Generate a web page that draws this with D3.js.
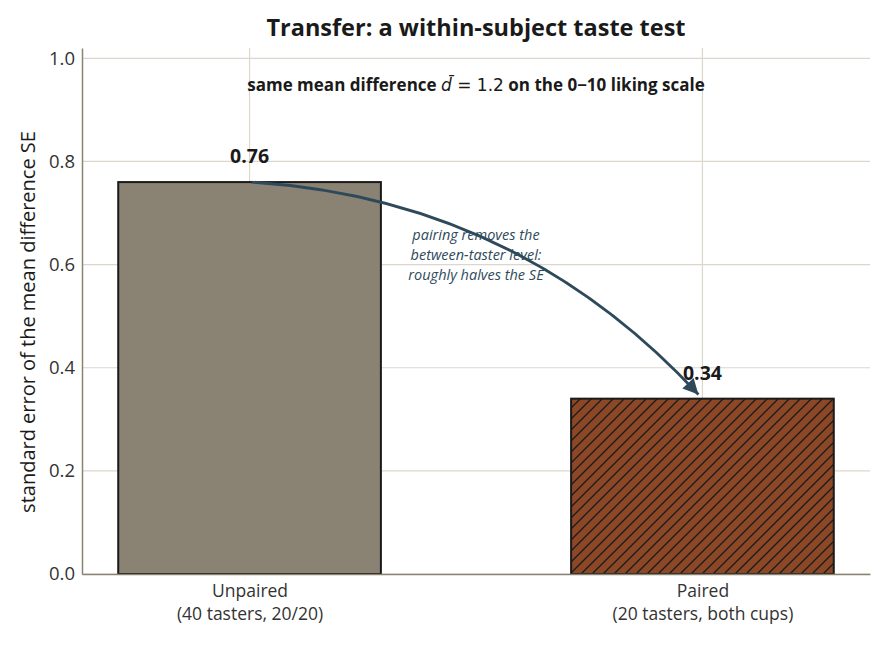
<!DOCTYPE html>
<html lang="en">
<head>
<meta charset="UTF-8">
<title>Transfer: a within-subject taste test</title>
<script src="https://cdn.jsdelivr.net/npm/d3@7"></script>
<style>
	html, body { margin: 0; padding: 0; background: #fff; }
	svg { display: block; font-family: "Open Sans", "Noto Sans", sans-serif; }
</style>
</head>
<body>
<div class="chart"></div>
<script>
	// data
	var categories = ['Unpaired', 'Paired'];
	var subLabels = ['(40 tasters, 20/20)', '(20 tasters, both cups)'];
	var seValues = [0.76, 0.34];
	var yTicks = [0.0, 0.2, 0.4, 0.6, 0.8, 1.0];
	var noteLines = ['pairing removes the', 'between-taster level:', 'roughly halves the SE'];

	var width = 886;
	var height = 646;
	var padding = { top: 48, right: 16, bottom: 72, left: 82 };
	var font = '"Open Sans", "Noto Sans", sans-serif';

	var xScale = d3.scaleLinear()
		.domain([-0.37, 1.37])
		.range([padding.left, width - padding.right]);
	var yScale = d3.scaleLinear()
		.domain([0, 1.02])
		.range([height - padding.bottom, padding.top]);
	var barW = 0.58;

	var svg = d3.select('.chart')
		.append('svg')
		.attr('width', width)
		.attr('height', height);

	var defs = svg.append('defs');
	var pat = defs.append('pattern')
		.attr('id', 'hatch')
		.attr('patternUnits', 'userSpaceOnUse')
		.attr('width', 11)
		.attr('height', 11);
	pat.append('rect').attr('width', 11).attr('height', 11).attr('fill', '#8b4726');
	pat.append('path')
		.attr('d', 'M-1,12 L12,-1 M-3,3 L3,-3 M8,14 L14,8')
		.attr('stroke', '#1a1a1a')
		.attr('stroke-width', 1.3);

	defs.append('marker')
		.attr('id', 'head')
		.attr('viewBox', '0 0 10 10')
		.attr('refX', 10).attr('refY', 5)
		.attr('markerWidth', 6).attr('markerHeight', 5.5)
		.attr('markerUnits', 'strokeWidth')
		.attr('orient', 'auto')
		.append('path')
		.attr('d', 'M0,0 L10,5 L0,10 Z')
		.attr('fill', '#2e4a5a');

	// grid
	svg.append('g')
		.selectAll('line')
		.data(yTicks)
		.enter()
		.append('line')
		.attr('x1', padding.left).attr('x2', width - padding.right)
		.attr('y1', function(d){ return yScale(d); })
		.attr('y2', function(d){ return yScale(d); })
		.attr('stroke', '#ddd6cc').attr('stroke-width', 1.2);
	svg.append('g')
		.selectAll('line')
		.data(categories)
		.enter()
		.append('line')
		.attr('x1', function(d, i){ return xScale(i); })
		.attr('x2', function(d, i){ return xScale(i); })
		.attr('y1', yScale(0)).attr('y2', padding.top)
		.attr('stroke', '#ddd6cc').attr('stroke-width', 1.2);

	// bars
	svg.append('g')
		.selectAll('rect')
		.data(seValues)
		.enter()
		.append('rect')
		.attr('x', function(d, i){ return xScale(i - barW / 2); })
		.attr('width', function(){ return xScale(barW) - xScale(0); })
		.attr('y', function(d){ return yScale(d); })
		.attr('height', function(d){ return yScale(0) - yScale(d); })
		.attr('fill', function(d, i){ return i === 0 ? '#8a8272' : 'url(#hatch)'; })
		.attr('stroke', '#1a1a1a')
		.attr('stroke-width', 2);

	// value labels
	svg.append('g')
		.selectAll('text')
		.data(seValues)
		.enter()
		.append('text')
		.attr('x', function(d, i){ return xScale(i); })
		.attr('y', function(d){ return yScale(d) - 19; })
		.attr('text-anchor', 'middle')
		.attr('font-size', 19.5)
		.attr('font-weight', 'bold')
		.attr('fill', '#1a1a1a')
		.text(function(d){ return d.toFixed(2); });

	// axes
	var yAxis = d3.axisLeft(yScale)
		.tickValues(yTicks)
		.tickSize(0)
		.tickPadding(7)
		.tickFormat(d3.format('.1f'));
	var gy = svg.append('g')
		.attr('transform', 'translate(' + padding.left + ',0)')
		.call(yAxis)
		.attr('font-family', font);
	gy.select('.domain').attr('stroke', '#8a8272').attr('stroke-width', 1.5);
	gy.selectAll('text').attr('font-size', 18.5).attr('fill', '#333');

	var xAxis = d3.axisBottom(xScale)
		.tickValues([0, 1])
		.tickSize(0)
		.tickFormat('');
	var gx = svg.append('g')
		.attr('transform', 'translate(0,' + yScale(0) + ')')
		.call(xAxis)
		.attr('font-family', font);
	gx.select('.domain').attr('stroke', '#8a8272').attr('stroke-width', 1.5);
	gx.selectAll('.tick').each(function(d, i){
		d3.select(this).append('text')
			.attr('text-anchor', 'middle')
			.attr('fill', '#333')
			.attr('font-size', 17.5)
			.attr('y', 23)
			.text(categories[i]);
		d3.select(this).append('text')
			.attr('text-anchor', 'middle')
			.attr('fill', '#333')
			.attr('font-size', 17.5)
			.attr('y', 46)
			.text(subLabels[i]);
	});

	// y label
	svg.append('text')
		.attr('transform', 'translate(35,' + ((padding.top + yScale(0)) / 2 + 11) + ') rotate(-90)')
		.attr('text-anchor', 'middle')
		.attr('font-size', 20)
		.attr('fill', '#1a1a1a')
		.text('standard error of the mean difference  SE');

	// title + subtitle
	var cx = (padding.left + width - padding.right) / 2;
	svg.append('text')
		.attr('x', cx).attr('y', 36)
		.attr('text-anchor', 'middle')
		.attr('font-size', 23.5)
		.attr('font-weight', 'bold')
		.attr('fill', '#1a1a1a')
		.text('Transfer: a within-subject taste test');

	var sub = svg.append('text')
		.attr('x', cx).attr('y', 91)
		.attr('text-anchor', 'middle')
		.attr('font-size', 17)
		.attr('font-weight', 'bold')
		.attr('fill', '#1a1a1a');
	sub.append('tspan').text('same mean difference ');
	sub.append('tspan').attr('font-weight', 'normal').attr('font-style', 'italic').attr('font-family', 'DejaVu Sans').text('d\u0304');
	sub.append('tspan').attr('font-weight', 'normal').attr('font-family', 'DejaVu Sans').text(' = 1.2');
	sub.append('tspan').text(' on the 0\u221210 liking scale');

	// curved arrow from the unpaired bar top to the paired bar
	var p0 = [xScale(0) + 2, yScale(seValues[0])];
	var p2 = [xScale(1) - 4, yScale(seValues[1] + 0.008)];
	var rad = 0.2;
	var mid = [(p0[0] + p2[0]) / 2, (p0[1] + p2[1]) / 2];
	var ctrl = [mid[0] + rad * (p2[1] - p0[1]), mid[1] - rad * (p2[0] - p0[0])];
	var arrowPath = d3.path();
	arrowPath.moveTo(p0[0], p0[1]);
	arrowPath.quadraticCurveTo(ctrl[0], ctrl[1], p2[0], p2[1]);
	svg.append('path')
		.attr('d', arrowPath.toString())
		.attr('fill', 'none')
		.attr('stroke', '#2e4a5a')
		.attr('stroke-width', 2.8)
		.attr('marker-end', 'url(#head)');

	svg.append('g')
		.selectAll('text')
		.data(noteLines)
		.enter()
		.append('text')
		.attr('x', xScale(0.5))
		.attr('y', function(d, i){ return yScale(0.6) - 25 + i * 20; })
		.attr('text-anchor', 'middle')
		.attr('font-size', 14.5)
		.attr('font-style', 'italic')
		.attr('fill', '#2e4a5a')
		.text(function(d){ return d; });
</script>
</body>
</html>
